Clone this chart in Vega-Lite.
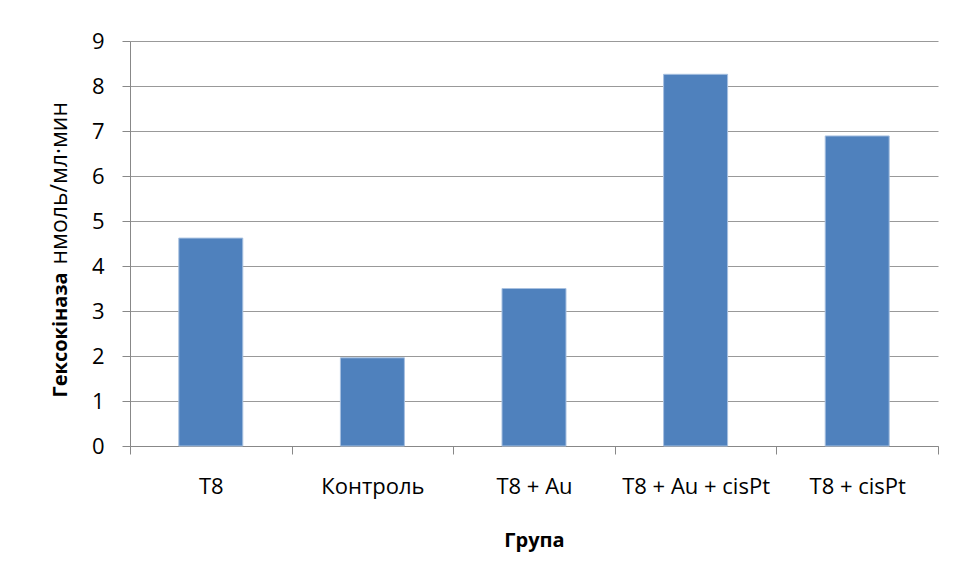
{
  "$schema": "https://vega.github.io/schema/vega-lite/v6.json",
  "width": 808,
  "height": 405,
  "autosize": "none",
  "padding": {"left": 130, "top": 41, "right": 18, "bottom": 134},
  "background": "white",
  "config": {
    "view": {"stroke": null},
    "font": "Open Sans",
    "axis": {"labelFont": "Open Sans", "titleFont": "Open Sans", "labelColor": "#000000", "titleColor": "#000000"}
  },
  "data": {
    "values": [
      {"group": "T8", "value": 4.62},
      {"group": "Контроль", "value": 1.96},
      {"group": "T8 + Au", "value": 3.5},
      {"group": "T8 + Au + cisPt", "value": 8.26},
      {"group": "T8 + cisPt", "value": 6.89}
    ]
  },
  "encoding": {
    "x": {
      "field": "group",
      "type": "nominal",
      "sort": null,
      "scale": {"paddingInner": 0, "paddingOuter": 0},
      "axis": {
        "title": "Група",
        "titleFontSize": 20,
        "titleFontWeight": "bold",
        "titleBaseline": "alphabetic",
        "titleY": 100,
        "labelAngle": 0,
        "labelFontSize": 22,
        "labelPadding": 22,
        "tickBand": "extent",
        "tickSize": 8,
        "tickColor": "#888888",
        "domainColor": "#888888",
        "grid": false
      }
    }
  },
  "layer": [
    {
      "mark": {"type": "bar", "color": "#4F81BD", "stroke": "#A7C0E0", "strokeWidth": 1, "width": {"band": 0.396}},
      "encoding": {
        "y": {
          "field": "value",
          "type": "quantitative",
          "scale": {"domain": [0, 9]},
          "axis": {
            "orient": "left",
            "values": [0, 1, 2, 3, 4, 5, 6, 7, 8, 9],
            "title": "Гексокіназа",
            "titleFontSize": 20,
            "titleFontWeight": "bold",
            "titleAngle": -90,
            "titleAlign": "left",
            "titleBaseline": "alphabetic",
            "titleX": -64,
            "titleY": 356,
            "labelFontSize": 22,
            "labelPadding": 18,
            "tickSize": 8,
            "tickColor": "#888888",
            "domainColor": "#888888",
            "gridColor": "#999999",
            "grid": true
          }
        }
      }
    },
    {
      "mark": {"type": "bar", "opacity": 0, "width": {"band": 0.396}},
      "encoding": {
        "y": {
          "field": "value",
          "type": "quantitative",
          "axis": {
            "orient": "left",
            "title": "нмоль/мл·мин",
            "titleFontSize": 23,
            "titleFontWeight": "normal",
            "titleAngle": -90,
            "titleAlign": "left",
            "titleBaseline": "alphabetic",
            "titleX": -64,
            "titleY": 223,
            "labels": false,
            "ticks": false,
            "domain": false,
            "grid": false
          }
        }
      }
    }
  ],
  "resolve": {"axis": {"y": "independent"}}
}
